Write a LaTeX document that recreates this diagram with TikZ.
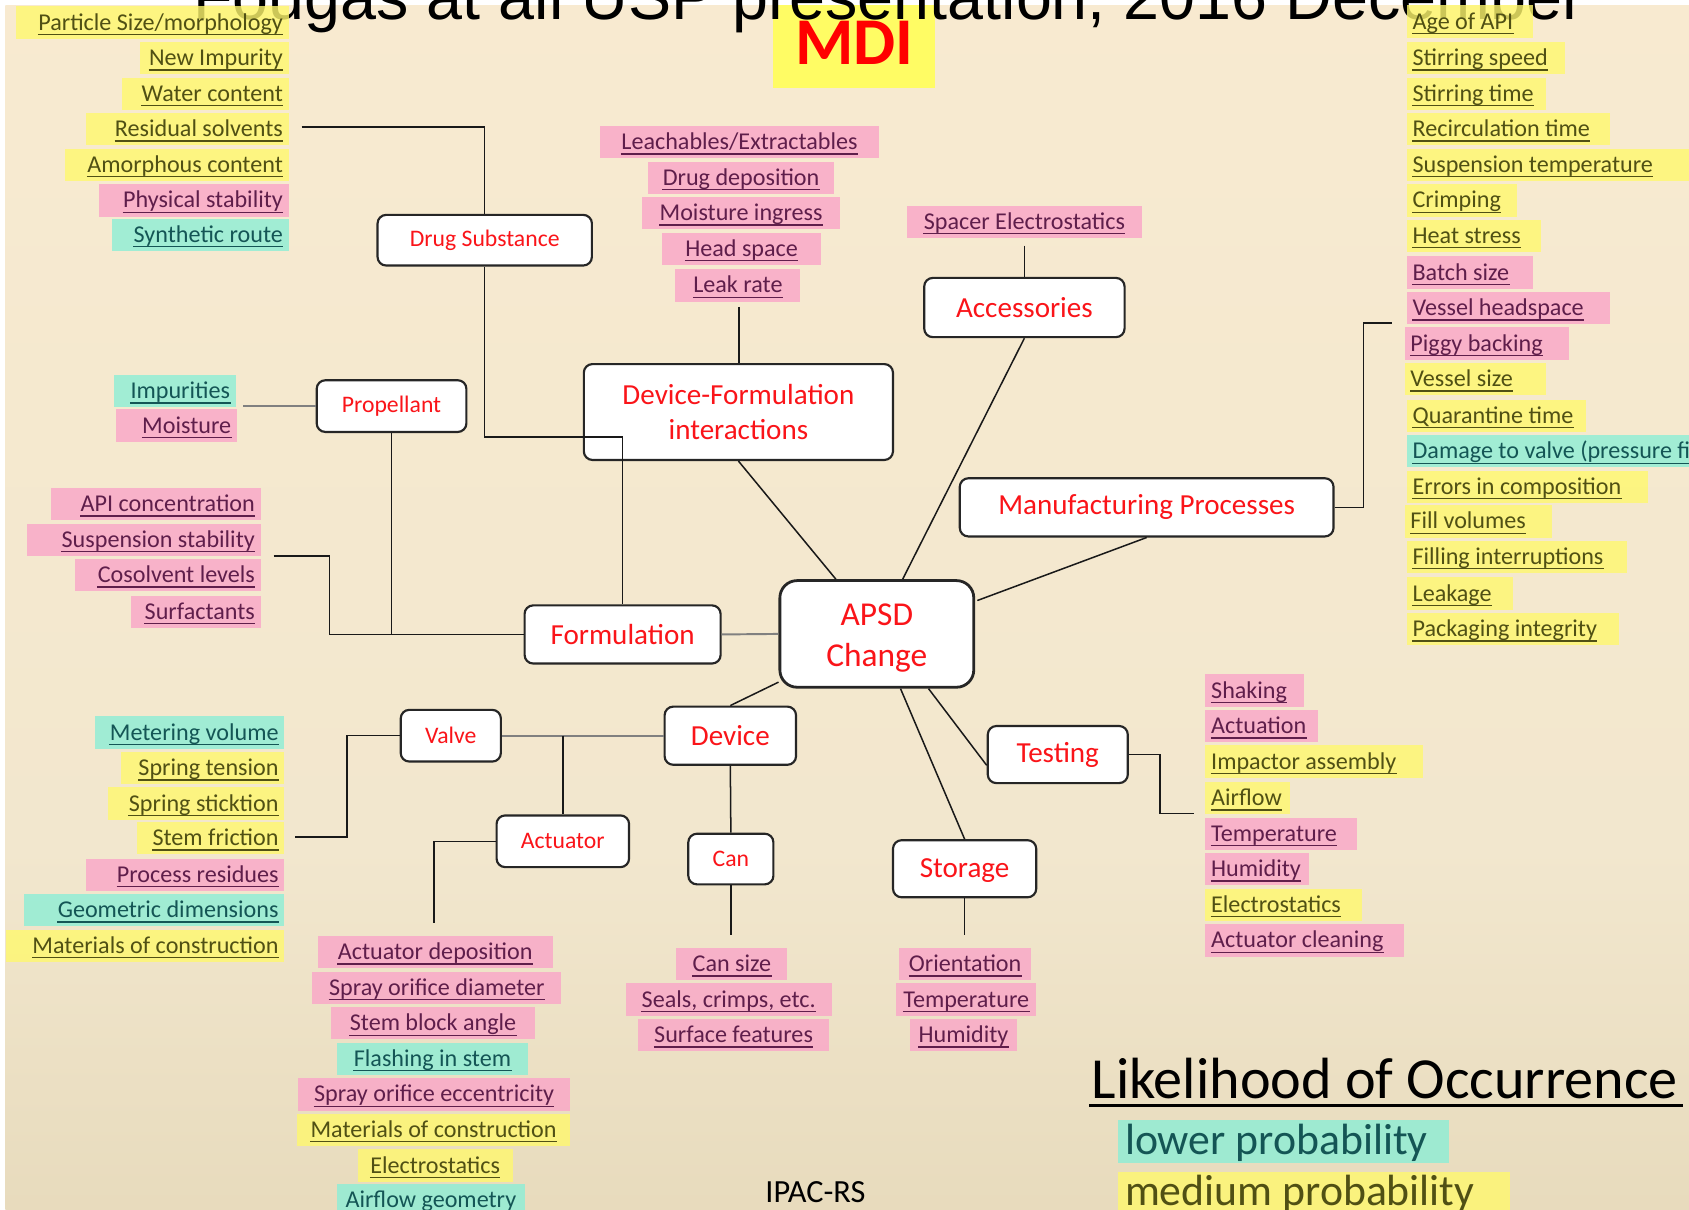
\documentclass[tikz,border=0pt]{standalone}
\usepackage{fontspec}
\setmainfont{Carlito}
\newfontfamily\arialf{Liberation Sans}
\usetikzlibrary{calc}
\definecolor{bgtop}{RGB}{252,237,210}
\definecolor{bgmid}{RGB}{242,231,206}
\definecolor{bgbot}{RGB}{214,199,160}
\definecolor{hlY}{RGB}{255,248,110}
\definecolor{hlP}{RGB}{250,165,200}
\definecolor{hlC}{RGB}{140,238,214}
\definecolor{txY}{RGB}{80,80,20}
\definecolor{txP}{RGB}{95,30,75}
\definecolor{txC}{RGB}{20,85,85}
\definecolor{boxred}{RGB}{250,20,25}
\definecolor{mdiyel}{RGB}{255,252,100}
\pgfdeclareverticalshading{bgshade}{100bp}{color(0bp)=(bgbot); color(40bp)=(bgmid); color(100bp)=(bgtop)}
\tikzset{
  lab/.style={inner sep=0pt, font=\fontsize{11.2}{13}\selectfont},
  mbox/.style={draw=black!85, line width=1pt, fill=white, rounded corners=4pt, text=boxred, inner sep=0pt, align=center},
  bigt/.style={font=\fontsize{13.5}{16}\selectfont},
  smallt/.style={font=\fontsize{11}{13}\selectfont},
  conn/.style={black!90, line width=0.7pt},
  gconn/.style={black!50, line width=0.9pt}
}
% name, colour letter, x1, x2, y centre, text
\newcommand\hlR[6]{%
  \fill[hl#2, fill opacity=0.8] (#3,#5-15) rectangle (#4,#5+15);
  \node[lab, text=tx#2, anchor=base east] (#1) at (#4-5,#5+7) {#6};
  \draw[tx#2, line width=0.6pt] ([yshift=-2pt]#1.base west) -- ([yshift=-2pt]#1.base east);}
\newcommand\hlL[6]{%
  \fill[hl#2, fill opacity=0.8] (#3,#5-15) rectangle (#4,#5+15);
  \node[lab, text=tx#2, anchor=base west] (#1) at (#3+5,#5+7) {#6};
  \draw[tx#2, line width=0.6pt] ([yshift=-2pt]#1.base west) -- ([yshift=-2pt]#1.base east);}
\newcommand\hlC[6]{%
  \fill[hl#2, fill opacity=0.8] (#3,#5-15) rectangle (#4,#5+15);
  \node[lab, text=tx#2, anchor=base] (#1) at ({(#3+#4)/2},#5+7) {#6};
  \draw[tx#2, line width=0.6pt] ([yshift=-2pt]#1.base west) -- ([yshift=-2pt]#1.base east);}
\begin{document}
\begin{tikzpicture}[x=0.5pt, y=-0.5pt]
\useasboundingbox (0,0) rectangle (1568,1123);
\clip (0,0) rectangle (1568,1123);
\fill[white] (0,0) rectangle (1568,1123);
\shade[shading=bgshade] (5,5) rectangle (1568,1123);

% MDI block and title (cut off at top)
\fill[mdiyel] (718,5) rectangle (868,82);
\node[font=\bfseries\fontsize{31}{31}\selectfont, text=red, anchor=base, inner sep=0pt] (mdi) at (793,60) {MDI};
\node[font=\arialf\fontsize{30}{30}\selectfont, anchor=base, inner sep=0pt] (title) at (825,18) {Fougas at all USP presentation, 2016 December};

% drug substance labels
\hlR{l-ps}{Y}{15}{268}{21}{Particle Size/morphology}
\hlR{l-ni}{Y}{130}{268}{54}{New Impurity}
\hlR{l-wc}{Y}{113}{268}{87}{Water content}
\hlR{l-rs}{Y}{80}{268}{120}{Residual solvents}
\hlR{l-ac}{Y}{60}{268}{153}{Amorphous content}
\hlR{l-pst}{P}{92}{268}{186}{Physical stability}
\hlR{l-sr}{C}{104}{268}{218}{Synthetic route}

% device-formulation labels
\hlC{c-le}{P}{557}{816}{132}{Leachables/Extractables}
\hlC{c-dd}{P}{602}{774}{165}{Drug deposition}
\hlC{c-mi}{P}{596}{780}{198}{Moisture ingress}
\hlC{c-hs}{P}{615}{762}{231}{Head space}
\hlC{c-lk}{P}{627}{743}{265}{Leak rate}
\hlC{c-se}{P}{842}{1060}{206}{Spacer Electrostatics}

% propellant labels
\hlR{p-im}{C}{106}{219}{363}{Impurities}
\hlR{p-mo}{P}{108}{220}{395}{Moisture}

% formulation labels
\hlR{f-api}{P}{47}{242}{468}{API concentration}
\hlR{f-ss}{P}{25}{242}{501}{Suspension stability}
\hlR{f-cl}{P}{70}{242}{534}{Cosolvent levels}
\hlR{f-su}{P}{122}{242}{568}{Surfactants}

% manufacturing labels
\hlL{m-1}{Y}{1306}{1423}{20}{Age of API}
\hlL{m-2}{Y}{1306}{1453}{54}{Stirring speed}
\hlL{m-3}{Y}{1306}{1435}{87}{Stirring time}
\hlL{m-4}{Y}{1306}{1495}{120}{Recirculation time}
\hlL{m-5}{Y}{1306}{1568}{153}{Suspension temperature}
\hlL{m-6}{Y}{1306}{1408}{186}{Crimping}
\hlL{m-7}{Y}{1306}{1431}{219}{Heat stress}
\hlL{m-8}{P}{1306}{1423}{253}{Batch size}
\hlL{m-9}{P}{1306}{1495}{286}{Vessel headspace}
\hlL{m-10}{P}{1304}{1457}{319}{Piggy backing}
\hlL{m-11}{Y}{1304}{1435}{352}{Vessel size}
\hlL{m-12}{Y}{1306}{1472}{386}{Quarantine time}
\hlL{m-13}{C}{1306}{1570}{419}{Damage to valve (pressure filling)}
\hlL{m-14}{Y}{1306}{1530}{452}{Errors in composition}
\hlL{m-15}{Y}{1304}{1441}{484}{Fill volumes}
\hlL{m-16}{Y}{1306}{1510}{517}{Filling interruptions}
\hlL{m-17}{Y}{1306}{1405}{551}{Leakage}
\hlL{m-18}{Y}{1306}{1503}{584}{Packaging integrity}

% testing labels
\hlL{t-1}{P}{1119}{1211}{641}{Shaking}
\hlL{t-2}{P}{1119}{1224}{674}{Actuation}
\hlL{t-3}{Y}{1119}{1321}{707}{Impactor assembly}
\hlL{t-4}{Y}{1119}{1198}{741}{Airflow}
\hlL{t-5}{P}{1119}{1260}{774}{Temperature}
\hlL{t-6}{P}{1119}{1215}{807}{Humidity}
\hlL{t-7}{Y}{1119}{1264}{840}{Electrostatics}
\hlL{t-8}{P}{1119}{1303}{873}{Actuator cleaning}

% storage labels
\hlC{s-1}{P}{835}{957}{895}{Orientation}
\hlC{s-2}{P}{832}{962}{928}{Temperature}
\hlC{s-3}{P}{845}{944}{961}{Humidity}

% can labels
\hlC{n-1}{P}{628}{731}{895}{Can size}
\hlC{n-2}{P}{581}{772}{928}{Seals, crimps, etc.}
\hlC{n-3}{P}{592}{770}{961}{Surface features}

% valve labels
\hlR{v-1}{C}{88}{264}{680}{Metering volume}
\hlR{v-2}{Y}{112}{264}{713}{Spring tension}
\hlR{v-3}{Y}{100}{264}{746}{Spring sticktion}
\hlR{v-4}{Y}{127}{264}{778}{Stem friction}
\hlR{v-5}{P}{80}{264}{812}{Process residues}
\hlR{v-6}{C}{22}{264}{845}{Geometric dimensions}
\hlR{v-7}{Y}{6}{264}{878}{Materials of construction}

% actuator labels
\hlC{a-1}{P}{295}{513}{884}{Actuator deposition}
\hlC{a-2}{P}{290}{521}{917}{Spray orifice diameter}
\hlC{a-3}{P}{307}{497}{950}{Stem block angle}
\hlC{a-4}{C}{313}{490}{983}{Flashing in stem}
\hlC{a-5}{P}{277}{529}{1016}{Spray orifice eccentricity}
\hlC{a-6}{Y}{276}{529}{1049}{Materials of construction}
\hlC{a-7}{Y}{332}{476}{1082}{Electrostatics}
\hlC{a-8}{C}{313}{487}{1114}{Airflow geometry}

% boxes
\node[mbox, smallt, minimum width=99.5pt, minimum height=23.5pt, text height=8pt] (ds) at (450,223) {Drug Substance};
\node[mbox, bigt, minimum width=143.5pt, minimum height=44.5pt] (df) at (685.5,382.5) {Device-Formulation\\interactions};
\node[mbox, bigt, minimum width=93pt, minimum height=27.5pt] (acc) at (951,285.5) {Accessories};
\node[mbox, smallt, minimum width=69.5pt, minimum height=24pt, text height=8pt] (prop) at (363.5,377) {Propellant};
\node[mbox, bigt, minimum width=91pt, minimum height=27pt] (form) at (578,589) {Formulation};
\node[mbox, rounded corners=8pt, line width=1.3pt, minimum width=90pt, minimum height=49.5pt] (apsd) at (814,588.5) {};
\node[font=\fontsize{15.5}{19}\selectfont, text=boxred, align=center, inner sep=0pt] (apsd-t) at ([yshift=-2pt]apsd.center) {APSD\\Change};
\node[mbox, bigt, minimum width=173.5pt, minimum height=27pt] (mfg) at (1064.5,471) {Manufacturing Processes};
\node[mbox, bigt, minimum width=61pt, minimum height=27pt] (dev) at (678,683) {Device};
\node[mbox, smallt, minimum width=46.5pt, minimum height=24pt] (valve) at (418.5,683) {Valve};
\node[mbox, smallt, minimum width=61.5pt, minimum height=24pt] (act) at (522.5,781) {Actuator};
\node[mbox, smallt, minimum width=39.5pt, minimum height=23.5pt] (can) at (678.5,797.5) {Can};
\node[mbox, bigt, minimum width=65pt, minimum height=26.5pt] (test) at (982,700.5) {Testing};
\node[mbox, bigt, minimum width=66.5pt, minimum height=26.5pt, text height=10pt] (stor) at (895.5,806.5) {Storage};

% connectors
\coordinate (k-rs) at (280,118);
\draw[conn] (k-rs) -| (ds.north);
\draw[conn] (ds.south) -- ++(0,158) -| (form.north);
\coordinate (k-lr) at (686,285);
\draw[conn] (k-lr) -- (k-lr |- df.north);
\coordinate (k-sp) at (951,228);
\draw[conn] (k-sp) -- (acc.north);
\coordinate (k-im) at (226,377);
\draw[gconn] (k-im) -- (prop.west);
\draw[conn] (prop.south) -- (prop.south |- form.west);
\coordinate (k-fl) at (254,516);
\draw[conn] (k-fl) -- ++(52,0) |- (form.west);
\draw[gconn] (form.east) -- (apsd.west);
\draw[conn] ([xshift=-19pt]apsd.north) -- (df.south);
\draw[conn] ([xshift=12pt]apsd.north) -- (acc.south);
\draw[conn] ([xshift=1pt,yshift=15.5pt]apsd.east) -- (mfg.south);
\draw[conn] ([yshift=3pt]apsd.south west) -- (dev.north);
\draw[conn] ([xshift=24pt]apsd.south) -- ([yshift=-5pt]test.west);
\draw[conn] ([xshift=11pt]apsd.south) -- (stor.north);
\draw[gconn] (dev.west) -- (valve.east);
\draw[conn] (act.north |- dev.west) -- (act.north);
\draw[conn] (dev.south) -- (can.north);
\coordinate (k-vl) at (274,777);
\draw[conn] (valve.west) -- ++(-49,0) |- (k-vl);
\coordinate (k-ac) at (403,857);
\draw[conn] (act.west) -| (k-ac);
\coordinate (k-cn) at (678.5,868);
\draw[conn] (can.south) -- (k-cn);
\coordinate (k-st) at (895.5,868);
\draw[conn] (stor.south) -- (k-st);
\coordinate (k-ts) at (1108,755);
\draw[conn] (test.east) -- ++(29,0) |- (k-ts);
\coordinate (k-mf) at (1292,300);
\draw[conn] (mfg.east) -- ++(27,0) |- (k-mf);

% footer and legend
\node[font=\fontsize{15}{15}\selectfont, anchor=base, inner sep=0pt] (ipac) at (757,1116) {IPAC-RS};
\node[font=\fontsize{27}{28}\selectfont, anchor=base west, inner sep=0pt] (lk) at (1013,1020) {Likelihood of Occurrence};
\draw[line width=1.4pt] ([xshift=-1pt,yshift=-3pt]lk.base west) -- ([xshift=2pt,yshift=-3pt]lk.base east);
\fill[hlC, fill opacity=0.8] (1038,1040) rectangle (1345,1080);
\node[font=\fontsize{20.3}{22}\selectfont, text=txC, anchor=base west, inner sep=0pt] (lo) at (1044,1072) {lower probability};
\fill[hlY, fill opacity=0.8] (1038,1088) rectangle (1402,1130);
\node[font=\fontsize{20.3}{22}\selectfont, text=txY, anchor=base west, inner sep=0pt] (me) at (1044,1119) {medium probability};
\end{tikzpicture}
\end{document}
